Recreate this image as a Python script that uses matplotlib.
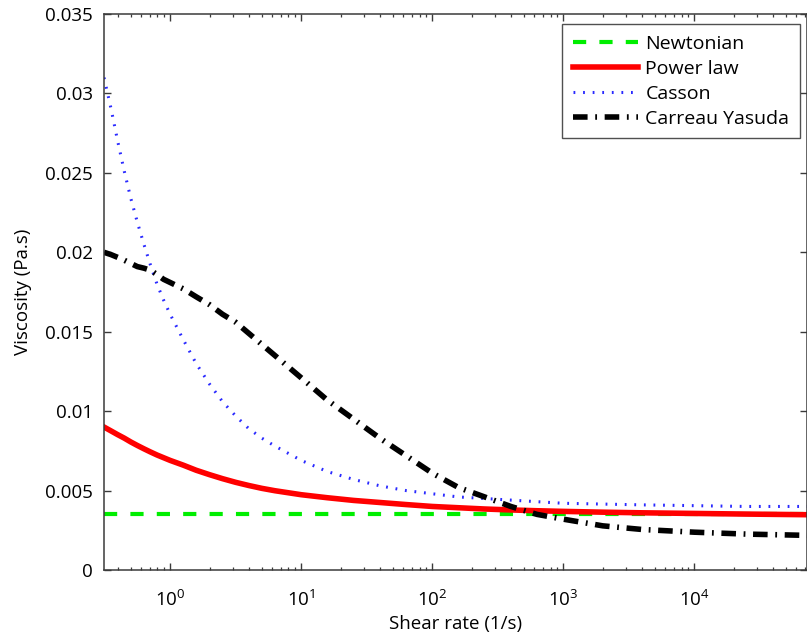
import numpy as np
import matplotlib
matplotlib.use("Agg")
import matplotlib.pyplot as plt
from matplotlib.ticker import FixedLocator, LogLocator, NullFormatter

plt.rcParams['font.family'] = ['Open Sans', 'DejaVu Sans']
plt.rcParams['mathtext.fontset'] = 'custom'
plt.rcParams['mathtext.rm'] = 'Open Sans'
plt.rcParams['lines.scale_dashes'] = False

# ---- data ----
shear_rate = [0.313, 0.355, 0.398, 0.447, 0.501, 0.562, 0.631, 0.708, 0.794, 0.891,
              1.0, 1.26, 1.58, 2.0, 2.51, 3.16, 3.98, 5.01, 6.31, 10.0,
              15.8, 25.1, 39.8, 63.1, 100.0, 158.0, 251.0, 398.0, 631.0, 1000.0,
              2000.0, 4000.0, 1.0e4, 2.5e4, 7.3e4]

newtonian = [0.0035] * len(shear_rate)

power_law = [0.0090, 0.00875, 0.00852, 0.0083, 0.00806, 0.00784, 0.00763, 0.00743, 0.00724, 0.00707,
             0.0069, 0.0066, 0.00628, 0.00600, 0.00575, 0.00552, 0.00532, 0.00514, 0.00499, 0.00474,
             0.00455, 0.00438, 0.00425, 0.00412, 0.00400, 0.00392, 0.00384, 0.00378, 0.00373, 0.00369,
             0.00364, 0.00360, 0.00356, 0.00352, 0.00348]

casson = [0.0310, 0.0290, 0.0270, 0.0251, 0.0234, 0.0219, 0.0205, 0.0192, 0.0180, 0.0170,
          0.0161, 0.0145, 0.0130, 0.0117, 0.0106, 0.0097, 0.0089, 0.0083, 0.0078, 0.0069,
          0.0062, 0.0057, 0.0053, 0.0050, 0.0048, 0.0046, 0.0045, 0.0044, 0.0043, 0.0042,
          0.00415, 0.0041, 0.00405, 0.0040, 0.0040]

carreau_yasuda = [0.0200, 0.01985, 0.01968, 0.0195, 0.0193, 0.0191, 0.0190, 0.01887, 0.0186, 0.0183,
                  0.0181, 0.0177, 0.0172, 0.0167, 0.0161, 0.0156, 0.0149, 0.0142, 0.0135, 0.0121,
                  0.0107, 0.0095, 0.0083, 0.0072, 0.0061, 0.0052, 0.0046, 0.0040, 0.0035, 0.0032,
                  0.00278, 0.00255, 0.00238, 0.00226, 0.00218]

labels = ['Newtonian', 'Power law', 'Casson', 'Carreau Yasuda']
xticks = [1, 10, 100, 1000, 10000]
xticklabels = [r'$\mathregular{10^{0}}$', r'$\mathregular{10^{1}}$', r'$\mathregular{10^{2}}$',
               r'$\mathregular{10^{3}}$', r'$\mathregular{10^{4}}$']
yticks = [0, 0.005, 0.01, 0.015, 0.02, 0.025, 0.03, 0.035]
yticklabels = ['0', '0.005', '0.01', '0.015', '0.02', '0.025', '0.03', '0.035']

# ---- figure ----
W, H = 807, 641
fig = plt.figure(figsize=(W / 100, H / 100), dpi=100)
ax = fig.add_axes([104 / W, (H - 570) / H, (807.5 - 104) / W, (570 - 14) / H])

ax.plot(shear_rate, newtonian, color='#00ee00', lw=3.0, dashes=(9.5, 9.5), dash_capstyle='butt',
        label=labels[0])
ax.plot(shear_rate, power_law, color='#ff0000', lw=4.0, label=labels[1])
ax.plot(shear_rate, casson, color='#2a2aff', lw=2.2, dashes=(1.3, 5.6), dash_capstyle='butt',
        label=labels[2])
ax.plot(shear_rate, carreau_yasuda, color='black', lw=4.0, dashes=(10.5, 5.5, 1.3, 5.5),
        dash_capstyle='butt', label=labels[3])

ax.set_xscale('log')
ax.set_xlim(0.313, 7.3e4)
ax.set_ylim(0, 0.035)

ax.xaxis.set_major_locator(FixedLocator(xticks))
ax.set_xticklabels(xticklabels)
ax.xaxis.set_minor_locator(LogLocator(base=10, subs=np.arange(2, 10)))
ax.xaxis.set_minor_formatter(NullFormatter())
ax.set_yticks(yticks)
ax.set_yticklabels(yticklabels)

spine_col = '#3a3a3a'
for s in ax.spines.values():
    s.set_color(spine_col)
    s.set_linewidth(1.1)
ax.tick_params(which='both', direction='in', top=True, right=True, colors=spine_col,
               labelcolor='black', labelsize=13.5)
ax.tick_params(which='major', length=5, width=1.0)
ax.tick_params(which='minor', length=2.5, width=0.9)
ax.tick_params(axis='x', pad=14)
ax.tick_params(axis='y', pad=8)

ax.set_xlabel('Shear rate (1/s)', fontsize=13.5, labelpad=4)
ax.set_ylabel('Viscosity (Pa.s)', fontsize=13.5, labelpad=9.5)

leg = ax.legend(loc='upper right', bbox_to_anchor=(800 / W, (H - 24) / H),
                bbox_transform=fig.transFigure, fontsize=14,
                handlelength=3.35, handletextpad=0.38, labelspacing=0.36, borderpad=0.55,
                borderaxespad=0, fancybox=False, framealpha=1, edgecolor='#505050')
leg.get_frame().set_linewidth(1.0)

fig.savefig('out.png', dpi=100)
